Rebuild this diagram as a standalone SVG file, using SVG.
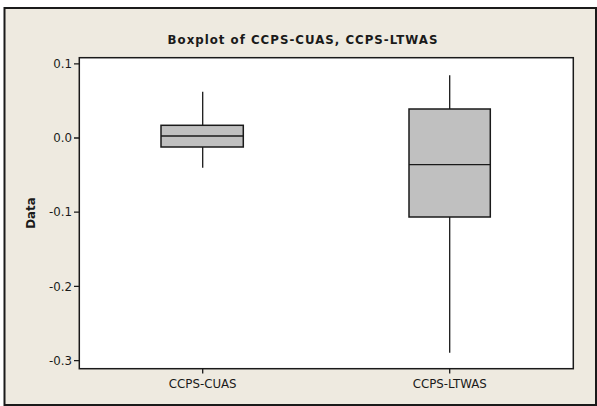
<svg xmlns="http://www.w3.org/2000/svg" width="597" height="406" viewBox="0 0 597 406">
<style>
.t{font-family:"DejaVu Sans","Verdana",sans-serif;font-size:11.8px;fill:#1a1a1a}
.b{font-weight:bold}
.ln{stroke:#1a1a1a;stroke-width:1.3;fill:none}
.box{fill:#c0c0c0;stroke:#1a1a1a;stroke-width:1.5}
</style>
<rect x="0" y="0" width="597" height="406" fill="#ffffff"/>
<rect x="4.5" y="8" width="591.5" height="397" fill="#eeeae0" stroke="#1a1a1a" stroke-width="2"/>
<text class="t b" x="303" y="43.7" text-anchor="middle" font-size="14.6" letter-spacing="1">Boxplot of CCPS-CUAS, CCPS-LTWAS</text>
<rect x="79.3" y="57.7" width="494" height="311" fill="#ffffff" stroke="#1a1a1a" stroke-width="1.5"/>
<g id="yaxis">
<path class="ln" d="M74 63.8H79.3M74 138H79.3M74 212.2H79.3M74 286.4H79.3M74 360.6H79.3"/>
<text class="t" x="72" y="68" text-anchor="end">0.1</text>
<text class="t" x="72" y="142.2" text-anchor="end">0.0</text>
<text class="t" x="72" y="216.4" text-anchor="end">-0.1</text>
<text class="t" x="72" y="290.6" text-anchor="end">-0.2</text>
<text class="t" x="72" y="364.8" text-anchor="end">-0.3</text>
<text class="t b" transform="translate(35 213) rotate(-90)" text-anchor="middle" font-size="12.4">Data</text>
</g>
<g id="xaxis">
<path class="ln" d="M202.7 368.7V373.5M449.7 368.7V373.5"/>
<text class="t" x="202.7" y="387.7" text-anchor="middle">CCPS-CUAS</text>
<text class="t" x="449.7" y="387.7" text-anchor="middle">CCPS-LTWAS</text>
</g>
<g id="connectors">
<path class="ln" d="M202.7 91.7V125.3M202.7 147V167.7"/>
<path class="ln" d="M449.7 75.3V109M449.7 217V352.7"/>
</g>
<g id="box-cuas">
<rect class="box" x="161" y="125.3" width="82.3" height="21.7"/>
<path class="ln" stroke-width="1.5" d="M161 136H243.3"/>
</g>
<g id="box-ltwas">
<rect class="box" x="409" y="109" width="81.3" height="108"/>
<path class="ln" stroke-width="1.5" d="M409 164.7H490.3"/>
</g>
</svg>
